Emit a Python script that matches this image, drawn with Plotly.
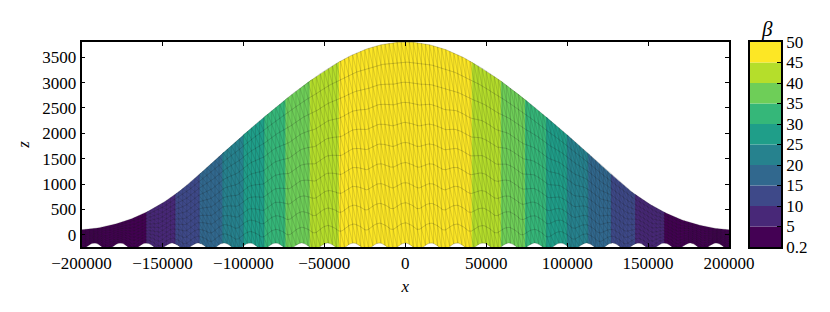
import numpy as np
import plotly.graph_objects as go

# surface elevation (half profile, symmetric)
surface_x_half = list(range(0, 200001, 5000))
surface_z_half = [3800, 3793, 3775, 3745, 3703, 3650, 3585, 3510, 3425, 3330, 3230, 3120, 3010, 2890,
                  2770, 2640, 2510, 2380, 2245, 2110, 1970, 1830, 1690, 1545, 1400, 1255, 1110, 975,
                  845, 730, 625, 530, 445, 370, 305, 250, 205, 165, 135, 112, 100]
# one period of the bed undulation (offset from bump centre, elevation)
bed_offset = [-8000, -7000, -6000, -5000, -4000, -3000, -2000, -1000, 0,
              1000, 2000, 3000, 4000, 5000, 6000, 7000, 8000]
bed_level = [-300, -295, -270, -240, -215, -195, -178, -165, -160,
             -165, -178, -195, -215, -240, -270, -295, -300]
bump_period = 16000
band_edges = [-200000, -160000, -142000, -127000, -113000, -100000, -87000, -74000, -59000, -41000,
              41000, 59000, 74000, 87000, 100000, 113000, 127000, 142000, 160000, 200000]
band_levels = [0, 1, 2, 3, 4, 5, 6, 7, 8, 9, 8, 7, 6, 5, 4, 3, 2, 1, 0]
level_colors = ["#440154", "#482878", "#3e4989", "#31688e", "#26828e",
                "#1f9e89", "#35b779", "#6ece58", "#b5de2b", "#fde725"]
beta_ticks = ["0.2", "5", "10", "15", "20", "25", "30", "35", "40", "45", "50"]
x_ticks = [-200000, -150000, -100000, -50000, 0, 50000, 100000, 150000, 200000]
z_ticks = [0, 500, 1000, 1500, 2000, 2500, 3000, 3500]
n_layers = 10
column_step = 2500

W, H = 830, 312
L, R, T, B = 81.5, 729, 42, 247
CL, CR = 750, 781
FONT = "Liberation Serif"

sx = np.array(surface_x_half, float)
sx_full = np.concatenate([-sx[:0:-1], sx])
sz_full = np.concatenate([np.array(surface_z_half, float)[:0:-1], surface_z_half])


def surface(x):
    return np.interp(x, sx_full, sz_full)


def bed(x):
    phase = (np.asarray(x, float) + bump_period / 2) % bump_period - bump_period / 2
    return np.interp(phase, bed_offset, bed_level)


fig = go.Figure()

for i, lev in enumerate(band_levels):
    x0, x1 = band_edges[i], band_edges[i + 1]
    end = min(x1 + 1000, 200000)
    xs = np.arange(x0, end + 1, 1000.0)
    fig.add_trace(go.Scatter(
        x=np.concatenate([xs, xs[::-1]]),
        y=np.concatenate([surface(xs), bed(xs[::-1])]),
        mode="lines", fill="toself", fillcolor=level_colors[lev],
        line=dict(width=0), hoverinfo="skip", showlegend=False))

cols = np.arange(-200000, 200001, column_step, dtype=float)
fine = np.arange(-200000, 200001, 1000.0)
frac = np.arange(n_layers + 1) / n_layers


def layer(x, f):
    return bed(x) + (surface(x) - bed(x)) * f


mx, my = [], []
for f in frac:
    mx += list(fine) + [None]
    my += list(layer(fine, f)) + [None]
fig.add_trace(go.Scatter(x=mx, y=my, mode="lines", hoverinfo="skip", showlegend=False,
                         line=dict(width=0.5, color="rgba(30,30,30,0.42)")))
vx, vy = [], []
for c in cols:
    vx += [c, c, None]
    vy += [bed(c), surface(c), None]
fig.add_trace(go.Scatter(x=vx, y=vy, mode="lines", hoverinfo="skip", showlegend=False,
                         line=dict(width=0.5, color="rgba(30,30,30,0.3)")))
dx, dy = [], []
for a, b in zip(cols[:-1], cols[1:]):
    for k in range(n_layers):
        dx += [a, b, None]
        dy += [layer(a, frac[k + 1]), layer(b, frac[k]), None]
fig.add_trace(go.Scatter(x=dx, y=dy, mode="lines", hoverinfo="skip", showlegend=False,
                         line=dict(width=0.5, color="rgba(30,30,30,0.3)")))

fig.add_trace(go.Bar(
    x=[0] * len(level_colors), y=[1] * len(level_colors), base=list(range(len(level_colors))),
    marker=dict(color=level_colors, line=dict(width=0)), width=1,
    xaxis="x2", yaxis="y2", hoverinfo="skip", showlegend=False))

axis_common = dict(showgrid=False, zeroline=False, showline=True, linecolor="black", linewidth=1.5,
                   ticks="inside", ticklen=4, tickwidth=0.8, tickcolor="black", automargin=False,
                   mirror="allticks", tickfont=dict(family=FONT, size=17, color="black"))

fig.update_layout(
    width=W, height=H, margin=dict(l=0, r=0, t=0, b=0),
    paper_bgcolor="white", plot_bgcolor="white", showlegend=False, barmode="overlay",
    font=dict(family=FONT, size=17, color="black"),
    xaxis=dict(domain=[L / W, R / W], range=[-200000, 200000], tickvals=x_ticks,
               tickformat="d", title=dict(text="<i>x</i>", standoff=8,
               font=dict(family=FONT, size=17)), **axis_common),
    yaxis=dict(domain=[1 - B / H, 1 - T / H], range=[-240, 3800], tickvals=z_ticks,
               title=dict(text="<i>z</i>", standoff=8, font=dict(family=FONT, size=17)),
               **axis_common),
    xaxis2=dict(domain=[CL / W, CR / W], range=[-0.5, 0.5], showticklabels=False, ticks="",
                showgrid=False, zeroline=False, showline=True, linecolor="black", linewidth=1.5,
                mirror=True, anchor="y2", automargin=False),
    yaxis2=dict(domain=[1 - B / H, 1 - T / H], range=[0, 10], side="right", anchor="x2",
                tickvals=list(range(11)), ticktext=beta_ticks, showgrid=False, zeroline=False,
                showline=True, linecolor="black", linewidth=1.5, mirror=True, automargin=False,
                ticks="inside", ticklen=4, tickwidth=0.8, tickcolor="black",
                tickfont=dict(family=FONT, size=17, color="black")),
    annotations=[dict(text="<i>β</i>", x=767 / W, y=1 - 29 / H, xref="paper", yref="paper",
                      xanchor="center", yanchor="middle",
                      showarrow=False, font=dict(family=FONT, size=21, color="black"))],
)
fig.write_html("out.html", post_script="document.body.style.margin='0';",
               config=dict(displayModeBar=False))
